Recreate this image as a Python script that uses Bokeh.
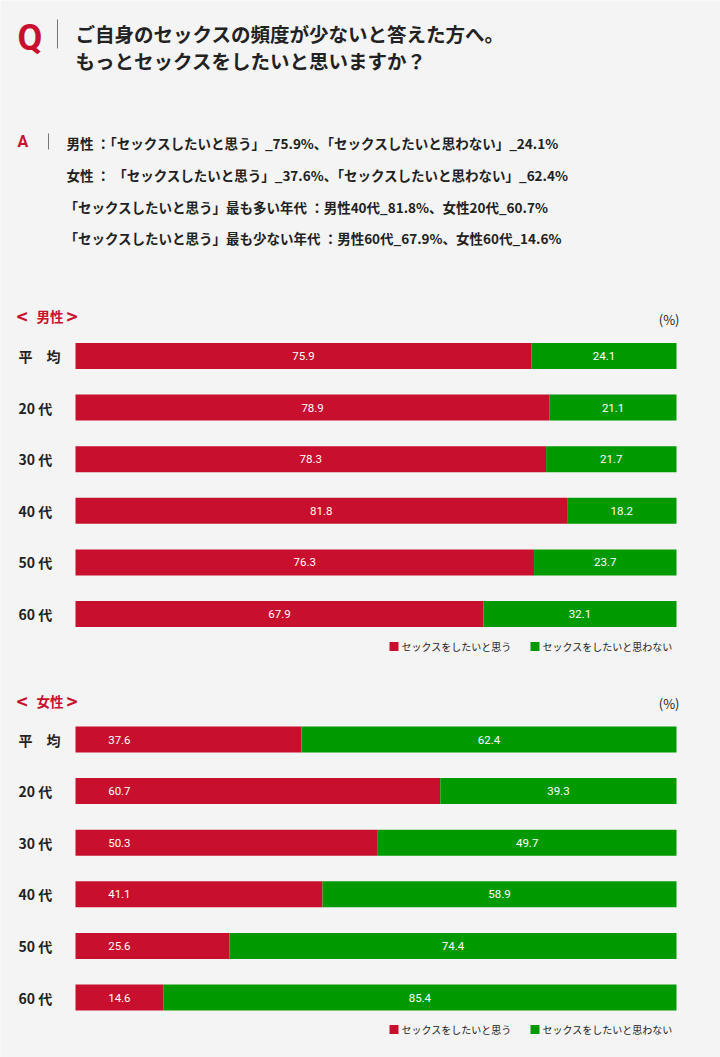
from bokeh.plotting import figure
from bokeh.models import ColumnDataSource, Range1d
from bokeh.core.properties import value
from bokeh.embed import file_html
from bokeh.resources import INLINE

# ---------------- data ----------------
ages = ["平　均", "20 代", "30 代", "40 代", "50 代", "60 代"]
male_yes = [75.9, 78.9, 78.3, 81.8, 76.3, 67.9]
male_no = [24.1, 21.1, 21.7, 18.2, 23.7, 32.1]
female_yes = [37.6, 60.7, 50.3, 41.1, 25.6, 14.6]
female_no = [62.4, 39.3, 49.7, 58.9, 74.4, 85.4]
series_names = ["セックスをしたいと思う", "セックスをしたいと思わない"]
sections = ["男性", "女性"]
question = ["ご自身のセックスの頻度が少ないと答えた方へ。", "もっとセックスをしたいと思いますか？"]
answers = [
    "男性 ：「セックスしたいと思う」_75.9%、「セックスしたいと思わない」_24.1%",
    "女性 ： 「セックスしたいと思う」_37.6%、「セックスしたいと思わない」_62.4%",
    "「セックスしたいと思う」最も多い年代 ：男性40代_81.8%、女性20代_60.7%",
    "「セックスしたいと思う」最も少ない年代 ：男性60代_67.9%、女性60代_14.6%",
]

BG = "#f4f4f4"
RED = "#c8102e"
GREEN = "#009a00"
INK = "#222222"
JP = value("Noto Sans CJK JP")
NUM = value("Roboto")
W, H = 720, 1057

# layout in screen pixels
PLOT_L, PLOT_R = 75, 676          # where 0 % and 100 % fall
PX_PER_PCT = (PLOT_R - PLOT_L) / 100.0


def px(x):
    """screen x (pixels) -> data x (percent units)"""
    return (x - PLOT_L) / PX_PER_PCT


p = figure(width=W, height=H,
           x_range=Range1d(px(0), px(W)), y_range=Range1d(H, 0),
           output_backend="svg", toolbar_location=None,
           x_axis_location=None, y_axis_location=None,
           min_border=0, background_fill_color=BG, border_fill_color=BG,
           outline_line_color=None)
p.xgrid.visible = False
p.ygrid.visible = False


def add_text(x, y, s, size, color=INK, bold=False, align="left", font=JP):
    p.text(x=[px(x)], y=[y], text=[s], text_font=font, text_font_size=size,
           text_color=color, text_align=align, text_baseline="middle",
           text_font_style="bold" if bold else "normal")


def add_section(y, name):
    add_text(16, y, "<", "19px", RED, True)
    add_text(36, y, name, "13.5px", RED, True)
    add_text(66, y, ">", "19px", RED, True)


def add_legend(y):
    for c, x, name in zip([RED, GREEN], [393.5, 534.5], series_names):
        p.scatter(x=[px(x)], y=[y], marker="square", size=9, fill_color=c, line_color=None)
        add_text(x + 7.5, y, name, "10px")


def add_bars(yes, no, top, pitch, fixed_red_label=None):
    ys = [top + i * pitch for i in range(len(ages))]
    src = ColumnDataSource(dict(
        y=ys, age=ages, yes=yes, no=no,
        total=[a + b for a, b in zip(yes, no)],
        yes_x=[fixed_red_label if fixed_red_label is not None else a / 2 for a in yes],
        no_x=[a + b / 2 for a, b in zip(yes, no)],
        yes_t=[f"{a:.1f}" for a in yes],
        no_t=[f"{b:.1f}" for b in no],
        lab_x=[px(18)] * len(ages),
    ))
    p.hbar(y="y", left=0, right="yes", height=26, fill_color=RED, line_color=None, source=src)
    p.hbar(y="y", left="yes", right="total", height=26, fill_color=GREEN, line_color=None, source=src)
    for xcol, tcol in (("yes_x", "yes_t"), ("no_x", "no_t")):
        p.text(x=xcol, y="y", text=tcol, source=src, text_align="center",
               text_baseline="middle", text_color="white", text_font_size="11.5px",
               text_font=NUM)
    p.text(x="lab_x", y="y", text="age", source=src, text_align="left",
           text_baseline="middle", text_color=INK, text_font_size="14px",
           text_font=JP, text_font_style="bold")


# ---------------- header ----------------
add_text(17, 37, "Q", "36px", RED, True, font=value("Roboto"))
p.segment(x0=[px(57)], y0=[19], x1=[px(57)], y1=[48], line_color="#777777", line_width=1)
add_text(75, 33, question[0], "19.5px", INK, True)
add_text(75, 60, question[1], "19.5px", INK, True)
add_text(17, 141, "A", "16px", RED, True, font=value("Roboto"))
p.segment(x0=[px(48)], y0=[133], x1=[px(48)], y1=[149], line_color="#777777", line_width=1)
for s, x, y in zip(answers, [66, 66, 64, 64], [142, 174, 206, 237]):
    add_text(x, y, s, "13.5px", INK, True)

# ---------------- men ----------------
add_section(315, sections[0])
add_text(679, 319, "(%)", "13px", INK, False, align="right")
add_bars(male_yes, male_no, 355.5, 51.6)
add_legend(646)

# ---------------- women ----------------
add_section(700, sections[1])
add_text(679, 703, "(%)", "13px", INK, False, align="right")
add_bars(female_yes, female_no, 739, 51.6, fixed_red_label=7.3)
add_legend(1029)

open("out.html", "w").write(file_html(p, INLINE))
